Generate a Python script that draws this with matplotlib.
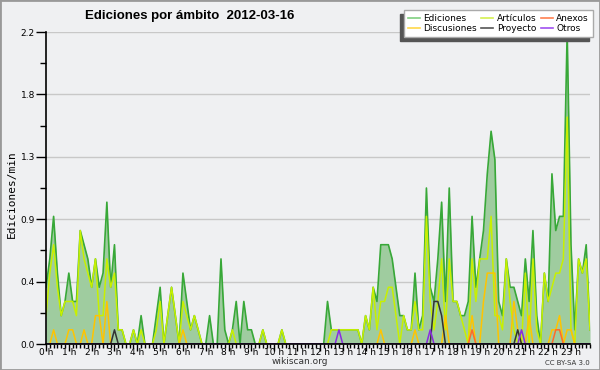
import numpy as np
import matplotlib.pyplot as plt
from matplotlib.patches import Rectangle
from matplotlib.lines import Line2D

# edits per 10-minute slot (144 slots)
ediciones = [4, 6, 9, 5, 2, 3, 5, 3, 3, 8,
             7, 6, 4, 6, 4, 5, 10, 4, 7, 1,
             1, 0, 0, 1, 0, 2, 0, 0, 0, 2,
             4, 0, 2, 4, 2, 0, 5, 3, 1, 2,
             1, 0, 0, 2, 0, 0, 6, 1, 0, 1,
             3, 0, 3, 1, 1, 0, 0, 1, 0, 0,
             0, 0, 1, 0, 0, 0, 0, 0, 0, 0,
             0, 0, 0, 0, 3, 1, 1, 1, 1, 1,
             1, 1, 1, 0, 2, 1, 4, 3, 7, 7,
             7, 6, 4, 2, 2, 1, 1, 5, 1, 2,
             11, 4, 3, 6, 10, 3, 11, 3, 3, 2,
             2, 3, 9, 4, 6, 8, 12, 15, 13, 3,
             2, 6, 4, 4, 3, 2, 6, 3, 8, 2,
             0, 5, 3, 12, 8, 9, 9, 22, 7, 1,
             6, 5, 7, 1]
articulos = [2, 5, 7, 4, 2, 3, 3, 3, 2, 8,
             6, 5, 4, 6, 2, 2, 6, 4, 5, 1,
             1, 0, 0, 1, 0, 1, 0, 0, 0, 1,
             3, 0, 2, 4, 2, 0, 3, 2, 1, 2,
             1, 0, 0, 0, 0, 0, 0, 0, 0, 1,
             0, 0, 0, 0, 0, 0, 0, 1, 0, 0,
             0, 0, 1, 0, 0, 0, 0, 0, 0, 0,
             0, 0, 0, 0, 0, 1, 1, 1, 1, 1,
             1, 1, 1, 0, 2, 1, 4, 1, 3, 3,
             4, 4, 2, 0, 2, 1, 1, 3, 1, 1,
             9, 3, 1, 3, 6, 1, 6, 3, 3, 2,
             1, 0, 6, 3, 6, 6, 6, 9, 2, 2,
             1, 6, 3, 1, 0, 0, 5, 0, 6, 1,
             0, 5, 3, 4, 5, 5, 6, 16, 1, 0,
             6, 5, 6, 1]
discusiones = [0, 0, 1, 0, 0, 0, 1, 1, 0, 0,
               1, 0, 0, 2, 2, 0, 3, 0, 0, 0,
               0, 0, 0, 0, 0, 0, 0, 0, 0, 0,
               0, 0, 0, 0, 0, 0, 1, 0, 0, 0,
               0, 0, 0, 0, 0, 0, 0, 0, 0, 0,
               0, 0, 0, 0, 0, 0, 0, 0, 0, 0,
               0, 0, 0, 0, 0, 0, 0, 0, 0, 0,
               0, 0, 0, 0, 0, 0, 0, 0, 0, 0,
               0, 0, 0, 0, 0, 0, 0, 0, 1, 0,
               0, 0, 0, 0, 0, 0, 0, 1, 0, 0,
               0, 0, 0, 0, 0, 2, 0, 0, 0, 0,
               0, 0, 2, 0, 0, 3, 5, 5, 5, 0,
               0, 0, 0, 3, 1, 0, 0, 2, 0, 0,
               0, 0, 0, 1, 1, 2, 0, 1, 1, 0,
               0, 0, 0, 0]
proyecto = [0] * 144
proyecto[18] = 1
proyecto[102:105] = [3, 3, 2]
proyecto[124] = 1
anexos = [0] * 144
anexos[112] = 1
anexos[134:136] = [1, 1]
otros = [0] * 144
otros[77] = 1
otros[101] = 1
otros[125] = 1

hour_labels = ["0 h", "1 h", "2 h", "3 h", "4 h", "5 h", "6 h", "7 h",
               "8 h", "9 h", "10 h", "11 h", "12 h", "13 h", "14 h", "15 h",
               "16 h", "17 h", "18 h", "19 h", "20 h", "21 h", "22 h", "23 h"]
ytick_vals = [0, 0.44, 0.88, 1.32, 1.76, 2.2]
ytick_labels = ["0.0", "0.4", "0.9", "1.3", "1.8", "2.2"]

bg = '#eff0f2'
fig = plt.figure(figsize=(6, 3.7), dpi=100, facecolor=bg)
ax = fig.add_axes([46 / 600, 26 / 370, 544 / 600, 312 / 370])
ax.set_facecolor(bg)

x = np.arange(len(ediciones))
rate = lambda s: np.array(s) / 10.0  # edits per minute

series = [
    ('Artículos', articulos, '#c8f000'),
    ('Discusiones', discusiones, '#ffc400'),
    ('Anexos', anexos, '#ff6a2a'),
    ('Proyecto', proyecto, '#333333'),
    ('Otros', otros, '#8a2be2'),
]

ax.fill_between(x, rate(ediciones), color='#9fcc9f', lw=0, zorder=1)
ax.plot(x, rate(ediciones), color='#38a838', lw=1.2, zorder=2)
for name, vals, col in series:
    ax.plot(x, rate(vals), color=col, lw=1.1, zorder=2)

ax.set_xlim(0, 143)
ax.set_ylim(0, 2.2)
ax.set_xticks(np.arange(0, 144, 6), hour_labels)
ax.set_xticks(np.arange(0, 144), minor=True)
ax.set_yticks(ytick_vals, ytick_labels)
ax.set_yticks(np.arange(0.22, 2.2, 0.44), minor=True)
ax.tick_params(axis='both', which='major', labelsize=6.5, width=1, color='black')
ax.tick_params(axis='y', which='major', length=7, pad=1)
ax.tick_params(axis='y', which='minor', length=4, width=1)
ax.tick_params(axis='x', which='major', length=5, pad=-2)
ax.tick_params(axis='x', which='minor', length=3, width=1)
ax.yaxis.grid(True, color='#c8c8c8', lw=1)
ax.set_axisbelow(True)
for s in ['top', 'right']:
    ax.spines[s].set_visible(False)
ax.spines['left'].set_linewidth(1.2)
ax.spines['bottom'].set_linewidth(1.2)
ax.spines['left'].set_zorder(3)
ax.spines['bottom'].set_zorder(3)
ax.set_ylabel('Ediciones/min', fontsize=8, family='DejaVu Sans Mono')
ax.yaxis.set_label_coords(-0.054, 0.48)

fig.text(85 / 600, 1 - 16 / 370, 'Ediciones por ámbito  2012-03-16',
         fontsize=9.5, fontweight='bold', va='center', ha='left', family='Liberation Sans')
fig.text(0.5, 1 - 361 / 370, 'wikiscan.org', ha='center', va='center', fontsize=6.5, color='#333333')
fig.text(0.983, 1 - 363 / 370, 'CC BY-SA 3.0', ha='right', va='center', fontsize=5, color='#333333')

handles = [
    Line2D([], [], color='#80d080', lw=1.2), Line2D([], [], color='#ffd84a', lw=1.2),
    Line2D([], [], color='#d4f050', lw=1.2), Line2D([], [], color='#555555', lw=1.2),
    Line2D([], [], color='#ff8050', lw=1.2), Line2D([], [], color='#a050f0', lw=1.2),
]
labels = ['Ediciones', 'Discusiones', 'Artículos', 'Proyecto', 'Anexos', 'Otros']
leg = fig.legend(handles, labels, ncol=3, loc='upper right',
                 bbox_to_anchor=(593 / 600, 1 - 10 / 370), fontsize=6.5,
                 frameon=True, fancybox=False, edgecolor='#aaaaaa', framealpha=1,
                 handlelength=1.3, handletextpad=0.4, columnspacing=0.5,
                 labelspacing=0.15, borderpad=0.45, borderaxespad=0)
leg.get_frame().set_linewidth(1)

fig.canvas.draw()
bb = leg.get_window_extent().transformed(fig.transFigure.inverted())
fig.patches.append(Rectangle((bb.x0 - 4 / 600, bb.y0 - 4 / 370), bb.width, bb.height,
                             transform=fig.transFigure, color='#555555', zorder=4))
fig.patches.append(Rectangle((0, 0), 1, 1, transform=fig.transFigure, fill=False,
                             ec='#999999', lw=2, zorder=10))

fig.savefig('out.png', dpi=100, facecolor=bg)
